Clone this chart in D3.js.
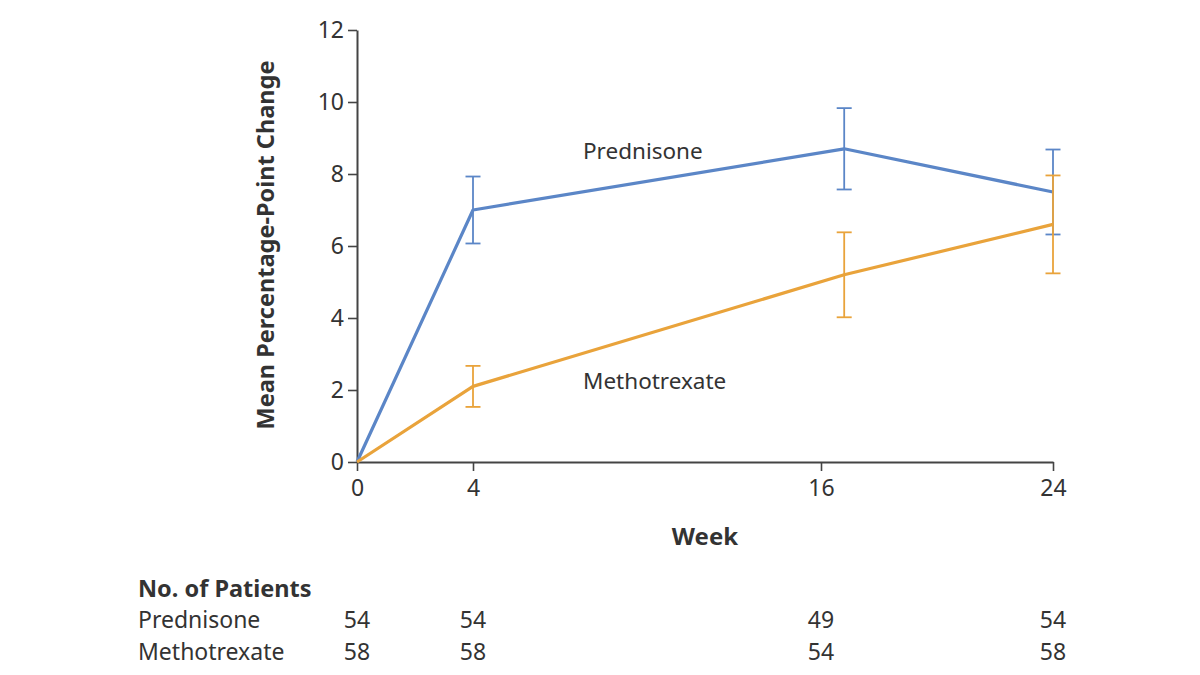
<!DOCTYPE html>
<html>
<head>
<meta charset="utf-8">
<script src="https://cdn.jsdelivr.net/npm/d3@7"></script>
<style>
  body { margin: 0; background: #fff; }
  text { font-family: "Noto Sans", "Open Sans", sans-serif; fill: #333; }
</style>
</head>
<body>
<script>
// data
const weeks = [0, 4, 16.8, 24]
const tickWeeks = [0, 4, 16, 24]
const yTicks = [0, 2, 4, 6, 8, 10, 12]
const prednisone = [0, 7.0, 8.7, 7.5]
const prednisoneErr = [0, 0.93, 1.13, 1.18]
const methotrexate = [0, 2.1, 5.2, 6.6]
const methotrexateErr = [0, 0.57, 1.18, 1.36]
const patientsPred = [54, 54, 49, 54]
const patientsMtx = [58, 58, 54, 58]

const w = 1200
const h = 675
const blue = '#5b86c7'
const orange = '#e9a33b'
const axisColor = '#444'

let svg = d3.select('body').append('svg')
    .attr('width', w)
    .attr('height', h)

let x = d3.scaleLinear().domain([0, 24]).range([357, 1053])
let y = d3.scaleLinear().domain([0, 12]).range([462, 30])

// axes
let xAxis = svg.append('g')
    .attr('transform', `translate(0,${y(0)})`)
    .call(d3.axisBottom(x).tickValues(tickWeeks).tickSize(9).tickPadding(7).tickSizeOuter(0))
let yAxis = svg.append('g')
    .attr('transform', `translate(${x(0)},0)`)
    .call(d3.axisLeft(y).tickValues(yTicks).tickSize(9).tickPadding(4).tickSizeOuter(0))

;[xAxis, yAxis].forEach(g => {
    g.select('.domain').attr('stroke', axisColor).attr('stroke-width', 2)
    g.selectAll('.tick line').attr('stroke', axisColor).attr('stroke-width', 1.6)
    g.selectAll('.tick text').attr('font-size', 23).attr('fill', '#333')
        .style('font-family', '"Noto Sans", sans-serif')
})
xAxis.selectAll('.tick text').attr('dy', '0.8em')

// axis titles
svg.append('text')
    .attr('x', 705).attr('y', 545)
    .attr('text-anchor', 'middle')
    .attr('font-size', 24).attr('font-weight', 'bold')
    .text('Week')

svg.append('text')
    .attr('transform', `translate(274,${y(6) - 1}) rotate(-90)`)
    .attr('text-anchor', 'middle')
    .attr('font-size', 23.5).attr('font-weight', 'bold')
    .text('Mean Percentage-Point Change')

// series
let series = [
    {name: 'Prednisone', values: prednisone, err: prednisoneErr, color: blue},
    {name: 'Methotrexate', values: methotrexate, err: methotrexateErr, color: orange}
]

let line = d3.line()
    .x((d, i) => x(weeks[i]))
    .y(d => y(d))

series.forEach(s => {
    let g = svg.append('g')
    let pts = s.values.map((v, i) => ({wk: weeks[i], v: v, e: s.err[i]})).filter(d => d.e > 0)

    g.selectAll('line.bar').data(pts).enter().append('line')
        .attr('x1', d => x(d.wk)).attr('x2', d => x(d.wk))
        .attr('y1', d => y(d.v + d.e)).attr('y2', d => y(d.v - d.e))
        .attr('stroke', s.color).attr('stroke-width', 1.8)
    g.selectAll('line.top').data(pts).enter().append('line')
        .attr('x1', d => x(d.wk) - 7.5).attr('x2', d => x(d.wk) + 7.5)
        .attr('y1', d => y(d.v + d.e)).attr('y2', d => y(d.v + d.e))
        .attr('stroke', s.color).attr('stroke-width', 1.8)
    g.selectAll('line.bot').data(pts).enter().append('line')
        .attr('x1', d => x(d.wk) - 7.5).attr('x2', d => x(d.wk) + 7.5)
        .attr('y1', d => y(d.v - d.e)).attr('y2', d => y(d.v - d.e))
        .attr('stroke', s.color).attr('stroke-width', 1.8)

    g.append('path')
        .datum(s.values)
        .attr('d', line)
        .attr('fill', 'none')
        .attr('stroke', s.color)
        .attr('stroke-width', 3.2)
        .attr('stroke-linejoin', 'round')
})

// series labels
svg.append('text').attr('x', 583).attr('y', 159)
    .attr('font-size', 22.5).attr('fill', '#444').text('Prednisone')
svg.append('text').attr('x', 583).attr('y', 389)
    .attr('font-size', 22.5).attr('fill', '#444').text('Methotrexate')

// number of patients table
svg.append('text').attr('x', 138).attr('y', 597)
    .attr('font-size', 23.5).attr('font-weight', 'bold').text('No. of Patients')

let rows = [
    {name: 'Prednisone', counts: patientsPred, yy: 628},
    {name: 'Methotrexate', counts: patientsMtx, yy: 660}
]
rows.forEach(r => {
    svg.append('text').attr('x', 138).attr('y', r.yy)
        .attr('font-size', 23).attr('fill', '#444').text(r.name)
    svg.selectAll(null).data(r.counts).enter().append('text')
        .attr('x', (d, i) => x(tickWeeks[i]))
        .attr('y', r.yy)
        .attr('text-anchor', 'middle')
        .attr('font-size', 23).attr('fill', '#444')
        .text(d => d)
})
</script>
</body>
</html>
